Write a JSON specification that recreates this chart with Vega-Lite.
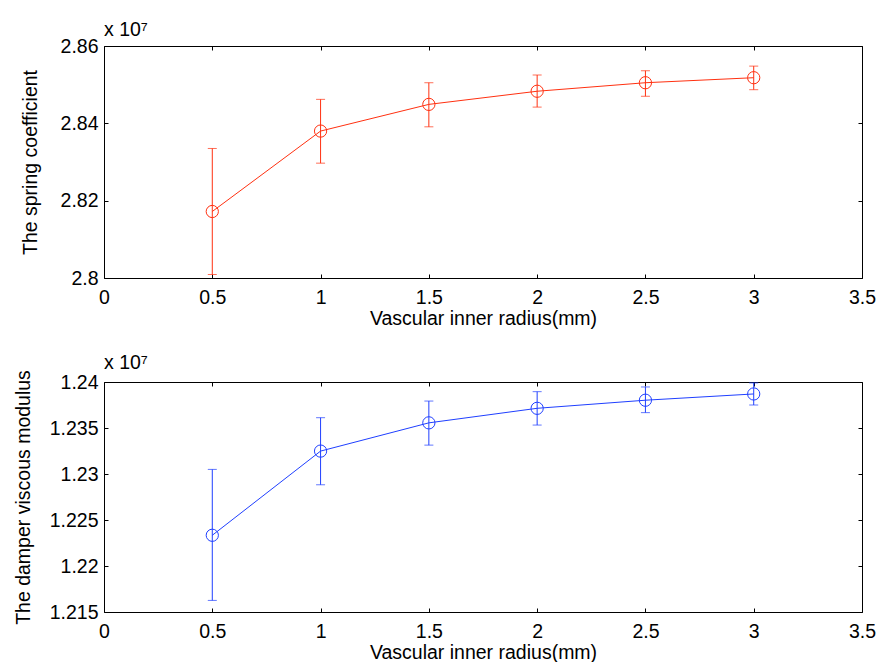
{
  "$schema": "https://vega.github.io/schema/vega-lite/v6.json",
  "background": "white",
  "padding": {"left": 12, "top": 19, "right": 5, "bottom": 0},
  "config": {
    "font": "Liberation Sans",
    "view": {"stroke": "black", "strokeWidth": 1},
    "axis": {
      "domain": false,
      "grid": false,
      "ticks": true,
      "tickSize": 4,
      "offset": -4,
      "tickColor": "black",
      "labelFontSize": 19.5,
      "labelColor": "black",
      "labelFlush": false,
      "labelOverlap": false,
      "labelBound": false,
      "labelPadding": 6,
      "titleFontSize": 19.5,
      "titleFontWeight": "normal",
      "titleColor": "black"
    },
    "axisX": {"labelPadding": 10},
    "title": {"fontSize": 19.5, "fontWeight": "normal", "color": "black", "anchor": "start", "frame": "group"}
  },
  "datasets": {
    "spring": [
      {"r": 0.5, "v": 2.8172, "lo": 2.8009, "hi": 2.8335},
      {"r": 1.0, "v": 2.8380, "lo": 2.8297, "hi": 2.8462},
      {"r": 1.5, "v": 2.8449, "lo": 2.8391, "hi": 2.8505},
      {"r": 2.0, "v": 2.8483, "lo": 2.8442, "hi": 2.8525},
      {"r": 2.5, "v": 2.8505, "lo": 2.8470, "hi": 2.8536},
      {"r": 3.0, "v": 2.8518, "lo": 2.8487, "hi": 2.8548}
    ],
    "damper": [
      {"r": 0.5, "v": 1.22334, "lo": 1.21626, "hi": 1.23050},
      {"r": 1.0, "v": 1.23249, "lo": 1.22883, "hi": 1.23612},
      {"r": 1.5, "v": 1.23556, "lo": 1.23314, "hi": 1.23793},
      {"r": 2.0, "v": 1.23714, "lo": 1.23532, "hi": 1.23895},
      {"r": 2.5, "v": 1.23802, "lo": 1.23667, "hi": 1.23946},
      {"r": 3.0, "v": 1.23870, "lo": 1.23750, "hi": 1.23990}
    ]
  },
  "spacing": 23,
  "vconcat": [
    {
      "width": 758,
      "height": 232,
      "data": {"name": "spring"},
      "title": {"text": "x 10⁷", "offset": -4},
      "resolve": {"axis": {"x": "independent", "y": "independent"}},
      "layer": [
        {
          "mark": {"type": "line", "color": "#ff3010", "strokeWidth": 1},
          "encoding": {
            "x": {"field": "r", "type": "quantitative", "scale": {"domain": [0, 3.5], "nice": false},
                  "axis": {"values": [0, 0.5, 1, 1.5, 2, 2.5, 3, 3.5], "format": "~g", "title": "Vascular inner radius(mm)", "titlePadding": 3}},
            "y": {"field": "v", "type": "quantitative", "scale": {"domain": [2.8, 2.86], "nice": false, "zero": false},
                  "axis": {"values": [2.8, 2.82, 2.84, 2.86], "format": "~g", "title": "The spring coefficient", "titlePadding": 20}}
          }
        },
        {
          "mark": {"type": "point", "shape": "circle", "filled": false, "size": 150, "strokeWidth": 1, "color": "#ff3010", "opacity": 1},
          "encoding": {
            "x": {"field": "r", "type": "quantitative", "axis": null},
            "y": {"field": "v", "type": "quantitative", "axis": null}
          }
        },
        {
          "mark": {"type": "errorbar", "ticks": {"size": 9}, "color": "#ff3010", "thickness": 1},
          "encoding": {
            "x": {"field": "r", "type": "quantitative", "axis": null},
            "y": {"field": "lo", "type": "quantitative", "axis": null},
            "y2": {"field": "hi"}
          }
        },
        {
          "mark": {"type": "point", "opacity": 0},
          "encoding": {
            "x": {"field": "r", "type": "quantitative",
                  "axis": {"orient": "top", "values": [0, 0.5, 1, 1.5, 2, 2.5, 3, 3.5], "labels": false, "title": null}},
            "y": {"field": "v", "type": "quantitative",
                  "axis": {"orient": "right", "values": [2.8, 2.82, 2.84, 2.86], "labels": false, "title": null}}
          }
        }
      ]
    },
    {
      "width": 758,
      "height": 230,
      "data": {"name": "damper"},
      "title": {"text": "x 10⁷", "offset": -4},
      "resolve": {"axis": {"x": "independent", "y": "independent"}},
      "layer": [
        {
          "mark": {"type": "line", "color": "#1f3fff", "strokeWidth": 1},
          "encoding": {
            "x": {"field": "r", "type": "quantitative", "scale": {"domain": [0, 3.5], "nice": false},
                  "axis": {"values": [0, 0.5, 1, 1.5, 2, 2.5, 3, 3.5], "format": "~g", "title": "Vascular inner radius(mm)", "titlePadding": 3}},
            "y": {"field": "v", "type": "quantitative", "scale": {"domain": [1.215, 1.24], "nice": false, "zero": false},
                  "axis": {"values": [1.215, 1.22, 1.225, 1.23, 1.235, 1.24], "format": "~g", "title": "The damper viscous modulus", "titlePadding": 16}}
          }
        },
        {
          "mark": {"type": "point", "shape": "circle", "filled": false, "size": 150, "strokeWidth": 1, "color": "#1f3fff", "opacity": 1},
          "encoding": {
            "x": {"field": "r", "type": "quantitative", "axis": null},
            "y": {"field": "v", "type": "quantitative", "axis": null}
          }
        },
        {
          "mark": {"type": "errorbar", "ticks": {"size": 9}, "color": "#1f3fff", "thickness": 1},
          "encoding": {
            "x": {"field": "r", "type": "quantitative", "axis": null},
            "y": {"field": "lo", "type": "quantitative", "axis": null},
            "y2": {"field": "hi"}
          }
        },
        {
          "mark": {"type": "point", "opacity": 0},
          "encoding": {
            "x": {"field": "r", "type": "quantitative",
                  "axis": {"orient": "top", "values": [0, 0.5, 1, 1.5, 2, 2.5, 3, 3.5], "labels": false, "title": null}},
            "y": {"field": "v", "type": "quantitative",
                  "axis": {"orient": "right", "values": [1.215, 1.22, 1.225, 1.23, 1.235, 1.24], "labels": false, "title": null}}
          }
        }
      ]
    }
  ]
}
